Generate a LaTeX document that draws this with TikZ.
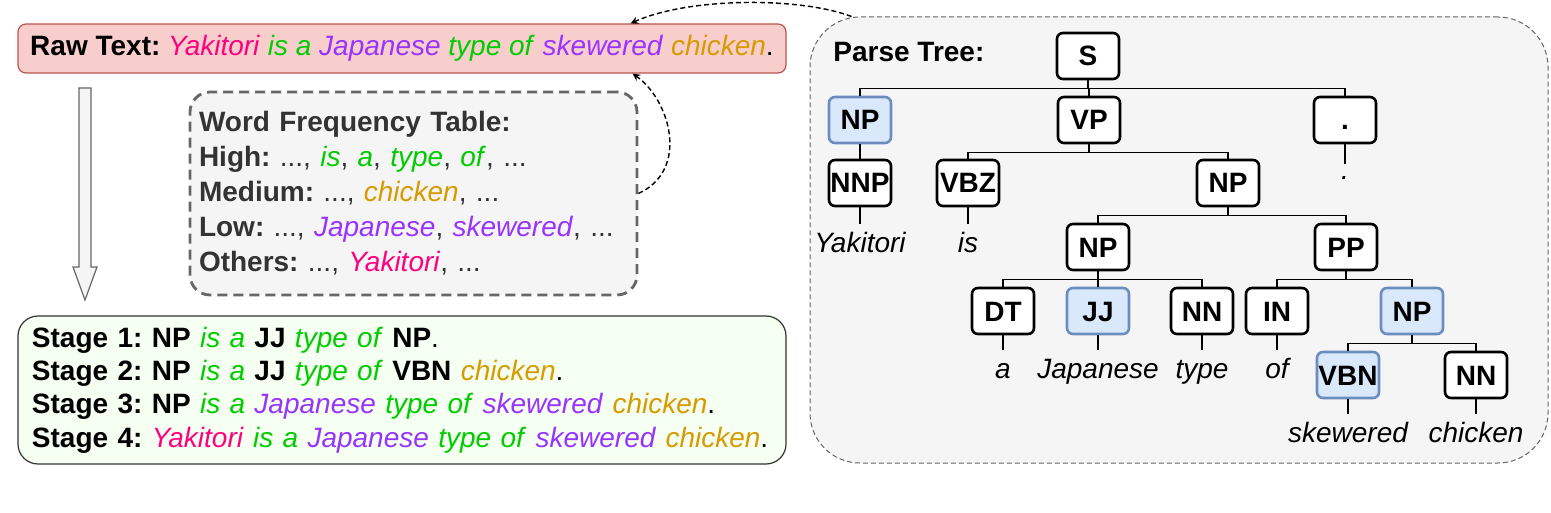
\documentclass[tikz,border=0pt]{standalone}
\usepackage{fontspec}
\setmainfont{Liberation Sans}
\usetikzlibrary{shapes.geometric, arrows}
\definecolor{wPink}{HTML}{FF0080}
\definecolor{wGreen}{HTML}{00CC00}
\definecolor{wPurple}{HTML}{9933FF}
\definecolor{wOrange}{HTML}{D79B00}
\definecolor{txtGray}{HTML}{333333}
\definecolor{lineGray}{HTML}{666666}
\definecolor{bgGray}{HTML}{F5F5F5}
\definecolor{rawFill}{HTML}{F8CECC}
\definecolor{rawDraw}{HTML}{B85450}
\definecolor{stageFill}{HTML}{F5FFF2}
\definecolor{blueFill}{HTML}{DAE8FC}
\definecolor{blueDraw}{HTML}{6C8EBF}
\newcommand{\bigsz}{\fontsize{14}{17.5}\selectfont\frenchspacing}
\newcommand{\wrd}[2]{\textcolor{#1}{\textit{#2}}}
\tikzstyle{rawNode} = [rectangle, rounded corners=4pt, draw=rawDraw, fill=rawFill, line width=0.6pt, minimum width=384pt, minimum height=24.5pt, inner sep=0pt, text centered]
\tikzstyle{freqNode} = [rectangle, rounded corners=10pt, draw=lineGray, fill=bgGray, line width=1.4pt, dash pattern=on 5pt off 3pt, minimum height=101.5pt, text width=214.5pt, inner xsep=4.5pt, align=left, text=txtGray, font=\bigsz]
\tikzstyle{stageNode} = [rectangle, rounded corners=10pt, draw=txtGray, fill=stageFill, line width=0.6pt, minimum height=74pt, text width=370pt, inner xsep=7pt, align=left, font=\fontsize{14}{16.7}\selectfont\frenchspacing]
\tikzstyle{parseNode} = [rectangle, rounded corners=25pt, draw=lineGray, fill=bgGray, line width=0.5pt, dash pattern=on 2.5pt off 1.5pt, minimum width=369pt, minimum height=223pt]
\tikzstyle{tagNode} = [rectangle, rounded corners=3pt, draw=black, line width=1.3pt, fill=white, minimum width=31pt, minimum height=23pt, inner sep=0pt, text height=10pt, text depth=0pt, font=\bigsz\bfseries]
\tikzstyle{blueTag} = [tagNode, draw=blueDraw, fill=blueFill]
\tikzstyle{leafNode} = [font=\bigsz\itshape, text height=10pt, text depth=3pt, inner sep=4pt, anchor=base]
\tikzstyle{branch} = [line width=0.6pt]
\tikzstyle{dashArrow} = [line width=0.7pt, dash pattern=on 2.5pt off 1.5pt, ->, >=stealth]
\tikzstyle{blockArrow} = [draw=lineGray, fill=bgGray, line width=0.6pt]

\begin{document}
\begin{tikzpicture}[x=0.5pt, y=-0.5pt, font=\bigsz]
    \useasboundingbox (0,0) rectangle (1551,513);

    % left column
    \node (raw) [rawNode] at (402,48.5) {\textbf{Raw Text:} \wrd{wPink}{Yakitori} \wrd{wGreen}{is a} \wrd{wPurple}{Japanese} \wrd{wGreen}{type of} \wrd{wPurple}{skewered} \wrd{wOrange}{chicken}.};
    \node (freq) [freqNode] at (413.5,193.5) {\textbf{Word Frequency Table:}\\
        \textbf{High:} ..., \wrd{wGreen}{is}, \wrd{wGreen}{a}, \wrd{wGreen}{type}, \wrd{wGreen}{of}, ...\\
        \textbf{Medium:} ..., \wrd{wOrange}{chicken}, ...\\
        \textbf{Low:} ..., \wrd{wPurple}{Japanese}, \wrd{wPurple}{skewered}, ...\\
        \textbf{Others:} ..., \wrd{wPink}{Yakitori}, ...};
    \node (stage) [stageNode] at (402,390) {\textbf{Stage 1: NP} \wrd{wGreen}{is a} \textbf{JJ} \wrd{wGreen}{type of} \textbf{NP}.\\
        \textbf{Stage 2: NP} \wrd{wGreen}{is a} \textbf{JJ} \wrd{wGreen}{type of} \textbf{VBN} \wrd{wOrange}{chicken}.\\
        \textbf{Stage 3: NP} \wrd{wGreen}{is a} \wrd{wPurple}{Japanese} \wrd{wGreen}{type of} \wrd{wPurple}{skewered} \wrd{wOrange}{chicken}.\\
        \textbf{Stage 4:} \wrd{wPink}{Yakitori} \wrd{wGreen}{is a} \wrd{wPurple}{Japanese} \wrd{wGreen}{type of} \wrd{wPurple}{skewered} \wrd{wOrange}{chicken}.};
    \draw [blockArrow] (79,88) -- (91,88) -- (91,267) -- (97,267) -- (85,300) -- (73,267) -- (79,267) -- cycle;

    % parse tree
    \node (parse) [parseNode] at (1179,240) {};
    \node (title) [anchor=west, inner sep=0pt, font=\bigsz\bfseries] at (833,52) {Parse Tree:};
    \node (s) [tagNode] at (1088,56) {S};
    \node (npA) [blueTag] at (860,120) {NP};
    \node (vp) [tagNode] at (1089,120) {VP};
    \node (dotT) [tagNode] at (1345,120) {.};
    \node (nnp) [tagNode] at (860,183) {NNP};
    \node (vbz) [tagNode] at (968,183) {VBZ};
    \node (npB) [tagNode] at (1228,183) {NP};
    \node (npC) [tagNode] at (1098,247) {NP};
    \node (pp) [tagNode] at (1346,247) {PP};
    \node (dt) [tagNode] at (1003,311) {DT};
    \node (jj) [blueTag] at (1098,311) {JJ};
    \node (nnA) [tagNode] at (1202,311) {NN};
    \node (in) [tagNode] at (1277,311) {IN};
    \node (npD) [blueTag] at (1412,311) {NP};
    \node (vbn) [blueTag] at (1348,375) {VBN};
    \node (nnB) [tagNode] at (1476,375) {NN};

    \node (wYakitori) [leafNode] at (860,252) {Yakitori};
    \node (wIs) [leafNode] at (968,252) {is};
    \node (wDot) [leafNode, text height=8pt, inner sep=0pt] at (1345,180) {.};
    \node (wA) [leafNode] at (1003,378) {a};
    \node (wJapanese) [leafNode] at (1098,378) {Japanese};
    \node (wType) [leafNode] at (1202,378) {type};
    \node (wOf) [leafNode] at (1277,378) {of};
    \node (wSkewered) [leafNode] at (1348,442) {skewered};
    \node (wChicken) [leafNode] at (1476,442) {chicken};

    \draw [branch] (s.south) -- ++(0,8) -| (npA.north);
    \draw [branch] (s.south) -- ++(0,8) -| (vp.north);
    \draw [branch] (s.south) -- ++(0,8) -| (dotT.north);
    \draw [branch] (npA) -- (nnp);
    \draw [branch] (vp.south) -- ++(0,8) -| (vbz.north);
    \draw [branch] (vp.south) -- ++(0,8) -| (npB.north);
    \draw [branch] (npB.south) -- ++(0,8) -| (npC.north);
    \draw [branch] (npB.south) -- ++(0,8) -| (pp.north);
    \draw [branch] (npC.south) -- ++(0,8) -| (dt.north);
    \draw [branch] (npC.south) -- ++(0,8) -| (jj.north);
    \draw [branch] (npC.south) -- ++(0,8) -| (nnA.north);
    \draw [branch] (pp.south) -- ++(0,8) -| (in.north);
    \draw [branch] (pp.south) -- ++(0,8) -| (npD.north);
    \draw [branch] (npD.south) -- ++(0,8) -| (vbn.north);
    \draw [branch] (npD.south) -- ++(0,8) -| (nnB.north);

    \draw [branch] (nnp.south) -- (wYakitori.north);
    \draw [branch] (vbz.south) -- (wIs.north);
    \draw [branch] (dotT.south) -- (wDot.north);
    \draw [branch] (dt.south) -- (wA.north);
    \draw [branch] (jj.south) -- (wJapanese.north);
    \draw [branch] (nnA.south) -- (wType.north);
    \draw [branch] (in.south) -- (wOf.north);
    \draw [branch] (vbn.south) -- (wSkewered.north);
    \draw [branch] (nnB.south) -- (wChicken.north);

    % dashed feedback arrows
    \draw [dashArrow] ([xshift=21pt]parse.north west) .. controls (800,-3) and (690,-3) .. ([xshift=-78pt]raw.north east);
    \draw [dashArrow] (freq.east) .. controls (690,170) and (670,100) .. ([xshift=-77pt]raw.south east);
\end{tikzpicture}
\end{document}
